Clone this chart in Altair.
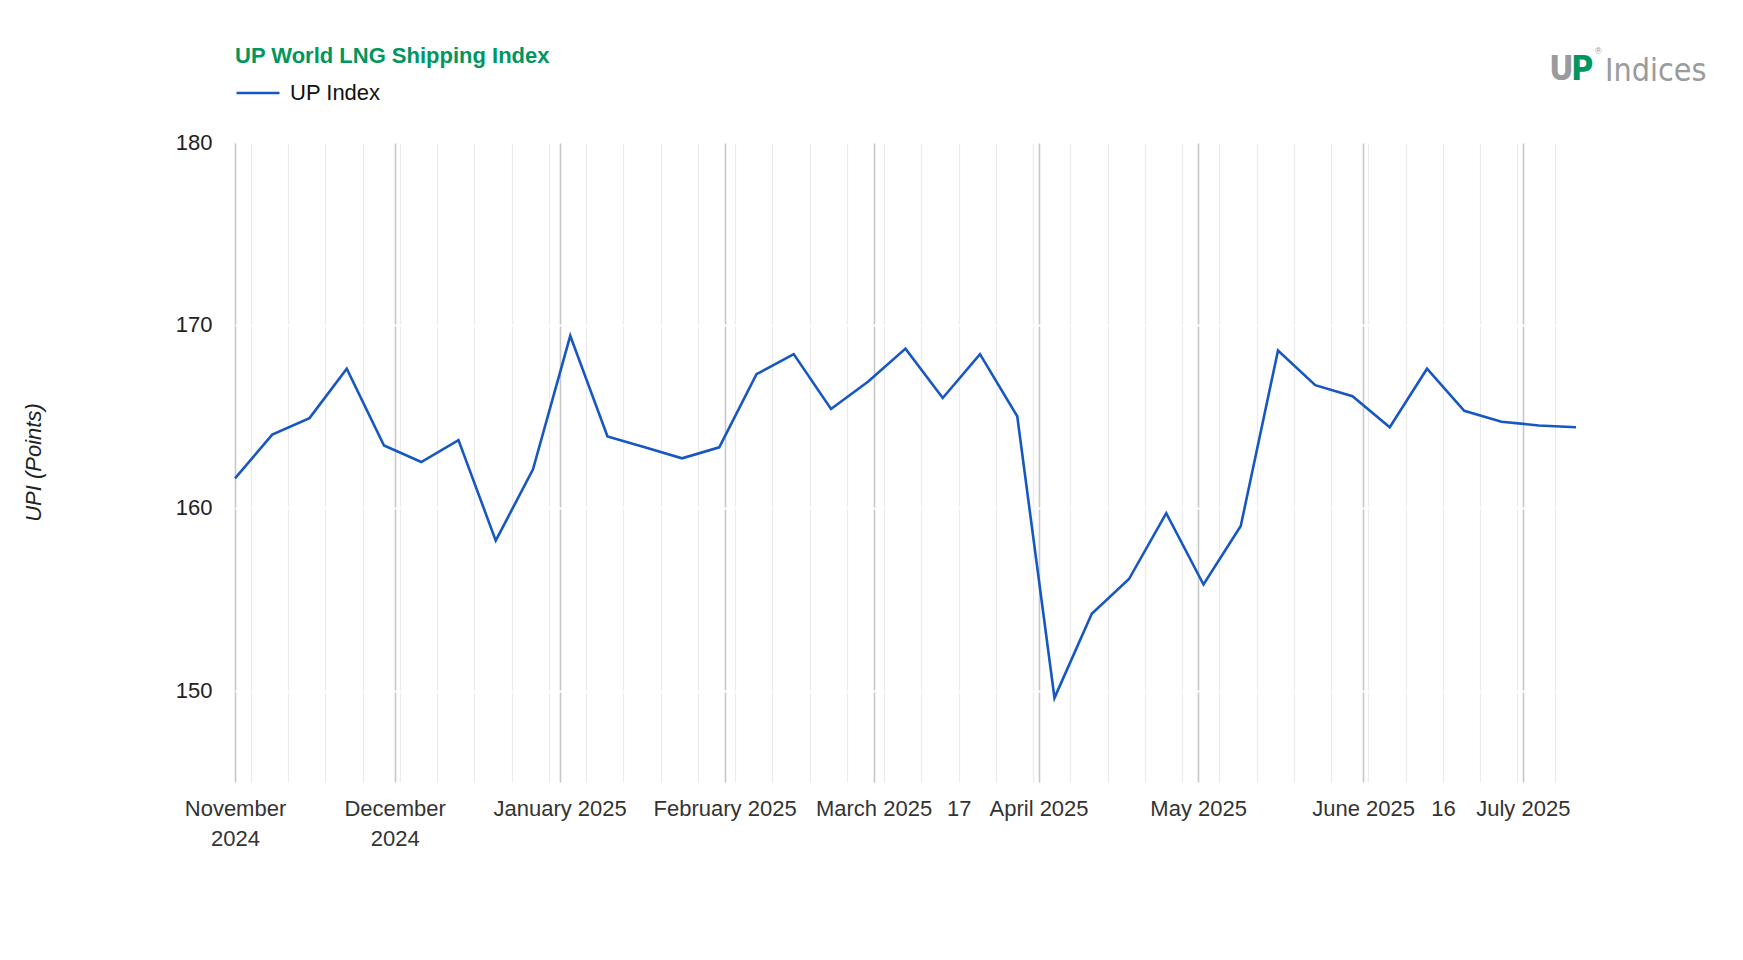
import json
import altair as alt
import pandas as pd

# ---------------- data ----------------
dates = [
    "2024-11-01", "2024-11-08", "2024-11-15", "2024-11-22", "2024-11-29",
    "2024-12-06", "2024-12-13", "2024-12-20", "2024-12-27",
    "2025-01-03", "2025-01-10", "2025-01-17", "2025-01-24", "2025-01-31",
    "2025-02-07", "2025-02-14", "2025-02-21", "2025-02-28",
    "2025-03-07", "2025-03-14", "2025-03-21", "2025-03-28",
    "2025-04-04", "2025-04-11", "2025-04-18", "2025-04-25",
    "2025-05-02", "2025-05-09", "2025-05-16", "2025-05-23", "2025-05-30",
    "2025-06-06", "2025-06-13", "2025-06-20", "2025-06-27",
    "2025-07-04", "2025-07-11",
]
values = [
    161.6, 164.0, 164.9, 167.6, 163.4,
    162.5, 163.7, 158.2, 162.1,
    169.4, 163.9, 163.3, 162.7, 163.3,
    167.3, 168.4, 165.4, 166.9,
    168.7, 166.0, 168.4, 165.0,
    149.6, 154.2, 156.1, 159.7,
    155.8, 159.0, 168.6, 166.7, 166.1,
    164.4, 167.6, 165.3, 164.7,
    164.5, 164.4,
]
series_name = "UP Index"

title_text = "UP World LNG Shipping Index"
y_title = "UPI (Points)"
y_ticks = [150, 160, 170, 180]

month_starts = [
    "2024-11-01", "2024-12-01", "2025-01-01", "2025-02-01", "2025-03-01",
    "2025-04-01", "2025-05-01", "2025-06-01", "2025-07-01",
]
label_dates = [
    "2024-11-01", "2024-12-01", "2025-01-01", "2025-02-01", "2025-03-01",
    "2025-03-17", "2025-04-01", "2025-05-01", "2025-06-01", "2025-06-16",
    "2025-07-01",
]
label_texts = [
    ["November", "2024"], ["December", "2024"], "January 2025", "February 2025",
    "March 2025", "17", "April 2025", "May 2025", "June 2025", "16", "July 2025",
]

# ---------------- helpers ----------------
def ms(s):
    return int(pd.Timestamp(s, tz="UTC").value // 10**6)

mondays = [str(d.date()) for d in pd.date_range("2024-11-04", "2025-07-07", freq="7D")]
tick_values = sorted(set(ms(d) for d in month_starts + mondays))

label_expr = ""
for d, t in zip(label_dates, label_texts):
    label_expr += f"abs(time(datum.value) - {ms(d)}) < 1000 ? {json.dumps(t)} : "
label_expr += "''"

df = pd.DataFrame({"date": dates, "value": values, "series": series_name})

FONT = "Liberation Sans, Arial, sans-serif"
NARROW = "Liberation Sans Narrow, DejaVu Sans Condensed, Liberation Sans, sans-serif"
GREEN = "#00965e"
LOGO_GREY = "#9b9b9b"
LINE_BLUE = "#1757c2"

grid_color = {"condition": {"test": "utcdate(datum.value) == 1", "value": "#c8c8c8"}, "value": "#ebebeb"}
grid_width = {"condition": {"test": "utcdate(datum.value) == 1", "value": 1.6}, "value": 1.2}

line = alt.Chart(df).mark_line(strokeWidth=2.6).encode(
    x=alt.X(
        "date:T",
        scale=alt.Scale(type="utc", domain=[ms(dates[0]), ms(dates[-1])], nice=False),
        axis=alt.Axis(
            values=tick_values,
            labelExpr=label_expr,
            title=None,
            grid=True,
            gridColor=grid_color,
            gridWidth=grid_width,
            ticks=False,
            tickSize=0,
            domain=False,
            labelFlush=False,
            labelOverlap=False,
            labelBound=False,
            labelFont=FONT,
            labelFontSize=22,
            labelColor="#333333",
            labelPadding=16,
            labelLineHeight=30,
            labelAlign="center",
            labelBaseline="top",
        ),
    ),
    y=alt.Y(
        "value:Q",
        scale=alt.Scale(domain=[145, 180], nice=False, zero=False),
        axis=alt.Axis(
            values=y_ticks,
            title=y_title,
            titleFont=FONT,
            titleFontSize=22,
            titleFontStyle="italic",
            titleFontWeight="normal",
            titleColor="#222222",
            titleX=-202,
            titleY=320,
            titleAngle=270,
            titleAlign="center",
            titleBaseline="middle",
            grid=True,
            gridColor="#ffffff",
            gridWidth=2,
            ticks=False,
            tickSize=0,
            domain=False,
            labelFont=FONT,
            labelFontSize=22,
            labelColor="#222222",
            labelPadding=23,
        ),
    ),
    color=alt.Color(
        "series:N",
        scale=alt.Scale(domain=[series_name], range=[LINE_BLUE]),
        legend=alt.Legend(
            title=None,
            orient="none",
            legendX=0,
            legendY=-72,
            padding=0,
            symbolType="stroke",
            symbolSize=1849,
            symbolStrokeWidth=2.6,
            labelFont=FONT,
            labelFontSize=22,
            labelColor="#111111",
            labelOffset=9,
        ),
    ),
)

title_mark = alt.Chart(pd.DataFrame({"t": [title_text]})).mark_text(
    align="left", baseline="alphabetic", font=FONT, fontSize=22,
    fontWeight="bold", color=GREEN,
).encode(x=alt.value(0), y=alt.value(-79), text="t:N")

logo_u = alt.Chart(pd.DataFrame({"t": ["U"]})).mark_text(
    align="left", baseline="alphabetic", font=NARROW, fontSize=34,
    fontWeight="bold", color=LOGO_GREY,
).encode(x=alt.value(1314), y=alt.value(-62), text="t:N")

logo_p = alt.Chart(pd.DataFrame({"t": ["P"]})).mark_text(
    align="left", baseline="alphabetic", font=NARROW, fontSize=34,
    fontWeight="bold", color=GREEN,
).encode(x=alt.value(1336), y=alt.value(-62), text="t:N")

logo_r = alt.Chart(pd.DataFrame({"t": ["®"]})).mark_text(
    align="left", baseline="alphabetic", font=FONT, fontSize=9,
    color=LOGO_GREY,
).encode(x=alt.value(1360), y=alt.value(-88), text="t:N")

logo_txt = alt.Chart(pd.DataFrame({"t": ["Indices"]})).mark_text(
    align="left", baseline="alphabetic", font=NARROW, fontSize=32,
    color=LOGO_GREY,
).encode(x=alt.value(1370), y=alt.value(-61), text="t:N")

chart = alt.layer(line, title_mark, logo_u, logo_p, logo_r, logo_txt).properties(
    width=1341,
    height=640,
    padding={"left": 227, "top": 134, "right": 150, "bottom": 150},
    autosize=alt.AutoSizeParams(type="none"),
    background="#ffffff",
).configure_view(stroke="transparent")

chart.save("out.html", embed_options={"renderer": "svg", "actions": False})
